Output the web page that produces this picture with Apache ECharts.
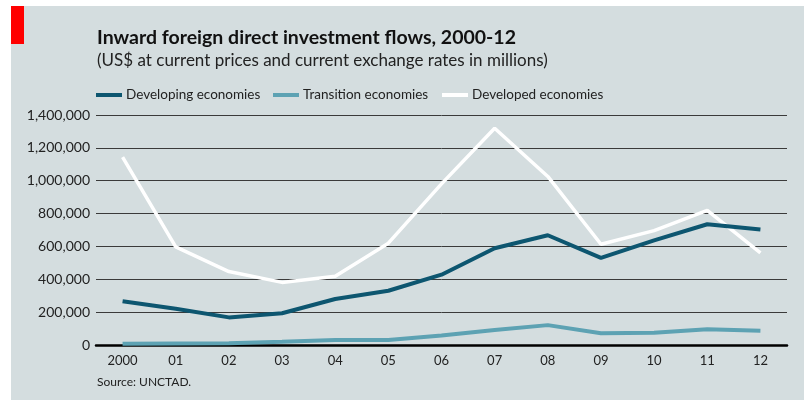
<!DOCTYPE html>
<html>
<head>
<meta charset="utf-8">
<script src="https://cdn.jsdelivr.net/npm/echarts@6/dist/echarts.min.js"></script>
<style>html,body{margin:0;padding:0;background:#fff}#c{width:804px;height:400px}</style>
</head>
<body>
<div id="c"></div>
<script>
const categories = ['2000','01','02','03','04','05','06','07','08','09','10','11','12'];
const developing = [266000, 221000, 168000, 193000, 280000, 330000, 428000, 589000, 668000, 530000, 637000, 735000, 703000];
const transition = [7000, 9000, 11000, 20000, 31000, 31000, 58000, 91000, 121000, 72000, 74000, 96000, 87000];
const developed = [1144000, 597000, 447000, 381000, 418000, 620000, 981000, 1319000, 1026000, 613000, 696000, 820000, 561000];
const seriesNames = ['Developing economies', 'Transition economies', 'Developed economies'];
const colors = ['#0d5670', '#5da2b3', '#ffffff'];
const titleText = 'Inward foreign direct investment flows, 2000-12';
const subtitleText = '(US$ at current prices and current exchange rates in millions)';
const sourceText = 'Source: UNCTAD.';

const FONT = 'Lato';
const chart = echarts.init(document.getElementById('c'), null, {renderer: 'canvas'});
const legendLefts = [96, 273, 442];
chart.setOption({
  backgroundColor: '#ffffff',
  animation: false,
  graphic: [
    {type: 'rect', z: -10, shape: {x: 11, y: 6, width: 793, height: 394}, style: {fill: '#d4dddf'}},
    {type: 'rect', z: -9, shape: {x: 11, y: 6, width: 13, height: 38}, style: {fill: '#ff0000'}},
    {type: 'text', left: 97, top: 28, style: {text: titleText, font: 'bold 19.5px ' + FONT, fill: '#111'}},
    {type: 'text', left: 97, top: 52, style: {text: subtitleText, font: '17px ' + FONT, fill: '#222'}},
    {type: 'text', left: 97, top: 376, style: {text: sourceText, font: '12px ' + FONT, fill: '#222'}}
  ],
  legend: seriesNames.map((n, i) => ({
    data: [n], left: legendLefts[i], top: 88, icon: 'rect', itemWidth: 26, itemHeight: 4,
    itemGap: 5, textStyle: {fontFamily: FONT, fontSize: 13.5, color: '#222', padding: [0,0,0,-1]}, padding: 0
  })),
  grid: {left: 96, right: 17, top: 115, bottom: 55, containLabel: false},
  xAxis: {
    type: 'category', data: categories, boundaryGap: true,
    axisLine: {lineStyle: {color: '#000', width: 2.5}},
    axisTick: {show: false},
    axisLabel: {fontFamily: FONT, fontSize: 13, color: '#222', margin: 9}
  },
  yAxis: {
    type: 'value', min: 0, max: 1400000, interval: 200000,
    axisLine: {show: false}, axisTick: {show: false},
    splitLine: {lineStyle: {color: '#3a3a3a', width: 1}},
    axisLabel: {fontFamily: FONT, fontSize: 14, color: '#222', margin: 6,
      formatter: v => v.toLocaleString('en-US')}
  },
  series: [
    {name: seriesNames[0], type: 'line', data: developing, symbol: 'none', z: 4,
      lineStyle: {color: colors[0], width: 4}, itemStyle: {color: colors[0]}},
    {name: seriesNames[1], type: 'line', data: transition, symbol: 'none', z: 3,
      lineStyle: {color: colors[1], width: 4}, itemStyle: {color: colors[1]}},
    {name: seriesNames[2], type: 'line', data: developed, symbol: 'none', z: 2,
      lineStyle: {color: colors[2], width: 3.5}, itemStyle: {color: colors[2]}}
  ]
});
</script>
</body>
</html>
